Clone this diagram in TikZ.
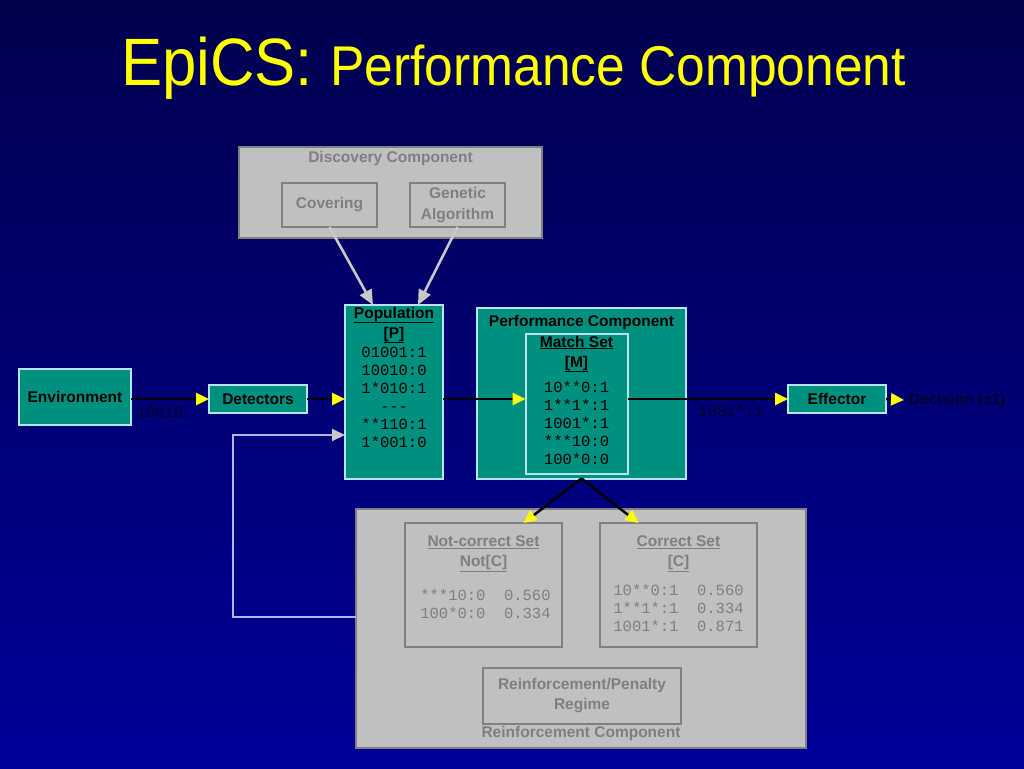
\documentclass[tikz,border=0pt]{standalone}
\usepackage{fontspec}
\setmainfont{Liberation Sans}
\newfontfamily\monof{Liberation Mono}
\usetikzlibrary{arrows.meta,calc}
\definecolor{teal1}{HTML}{00907F}
\definecolor{tealedge}{HTML}{B8E4EE}
\definecolor{gfill}{HTML}{C0C0C0}
\definecolor{gedge}{HTML}{808080}
\definecolor{gtext}{HTML}{7F7F7F}
\definecolor{bgtop}{HTML}{00004E}
\definecolor{bgbot}{HTML}{00009A}
\definecolor{darklab}{HTML}{000028}
\definecolor{fbline}{HTML}{B4B4E6}
\definecolor{garrow}{HTML}{C8C8C8}
\definecolor{yel}{HTML}{FFFF00}
\begin{document}
\begin{tikzpicture}[x=1pt,y=-1pt,
  every node/.style={inner sep=0pt, outer sep=0pt},
  bsans/.style={font=\bfseries\fontsize{15.5pt}{20pt}\selectfont, align=center},
  mono/.style={font=\monof\fontsize{15.5pt}{18pt}\selectfont, align=center},
  tbox/.style 2 args={draw=tealedge, line width=2pt, fill=teal1, minimum width=#1pt, minimum height=#2pt, bsans, text=black},
  gbox/.style 2 args={draw=gedge, line width=2.5pt, fill=gfill, minimum width=#1pt, minimum height=#2pt, bsans, text=gtext},
  gtxt/.style={bsans, text=gtext},
  btxt/.style={bsans, text=black},
  blk/.style={draw=black, line width=2.5pt, -{Triangle[length=13pt,width=12pt,color=yel]}},
  garr/.style={draw=garrow, line width=2.6pt, -{Triangle[length=15pt,width=13pt,color=garrow]}},
  fb/.style={draw=fbline, line width=2pt, -{Triangle[length=13pt,width=12pt,color=garrow]}},
  dlab/.style={mono, text=darklab}
]
\useasboundingbox (0,0) rectangle (1024,768);
\shade[top color=bgtop, bottom color=bgbot] (0,0) rectangle (1024,768);

% title
\node[anchor=base, text=yel] (title) at (513.5,85)
  {\scalebox{0.92}[1]{\fontsize{67pt}{70pt}\selectfont EpiCS: \fontsize{56pt}{60pt}\selectfont Performance Component}};

% discovery component
\node[gbox={303}{91}] (disc) at (390.5,192.5) {};
\node[gtxt] (disctitle) at (390.5,158) {Discovery Component};
\node[gbox={95}{44}] (cov) at (329.5,205) {Covering};
\node[gbox={95}{44}] (ga) at (457.5,205) {Genetic\\[1pt]Algorithm};

% environment, detectors, effector
\node[tbox={112}{56}] (env) at (75,397) {Environment};
\node[tbox={98}{28}] (det) at (258,399) {Detectors};
\node[tbox={98}{28}] (eff) at (837,399) {Effector};
\node[bsans, text=darklab, anchor=west, inner xsep=5pt] (dec) at (904,400) {Decision (±1)};

% population
\node[tbox={98}{174}] (pop) at (394,392) {};
\node[btxt] (poptitle) at (394,325) {\underline{Population}\\\underline{[P]}};
\node[mono] (popbody) at (394,397) {01001:1\\10010:0\\1*010:1\\-{}-{}-\\**110:1\\1*001:0};

% performance component
\node[tbox={209}{171}] (perf) at (581.5,393) {};
\node[btxt] (perftitle) at (581.5,322) {Performance Component};
\node[tbox={102}{140}] (match) at (576.5,404) {};
\node[btxt] (matchtitle) at (576.5,354) {\underline{Match Set}\\\underline{[M]}};
\node[mono] (matchbody) at (576.5,422.5) {10**0:1\\1**1*:1\\1001*:1\\***10:0\\100*0:0};

% reinforcement component
\node[gbox={450}{239}] (reinf) at (581,628.5) {};
\node[gbox={157}{124}] (notc) at (483.5,585) {};
\node[gtxt] (notctitle) at (483.5,554) {\underline{Not-correct Set}\\\underline{Not[C]}};
\node[mono, text=gtext] (notcbody) at (485.5,604) {***10:0~~0.560\\100*0:0~~0.334};
\node[gbox={157}{124}] (corr) at (678.5,585) {};
\node[gtxt] (corrtitle) at (678.5,554) {\underline{Correct Set}\\\underline{[C]}};
\node[mono, text=gtext] (corrbody) at (678.5,607.5) {10**0:1~~0.560\\1**1*:1~~0.334\\1001*:1~~0.871};
\node[gbox={198}{56}] (regime) at (582,696) {Reinforcement/Penalty\\Regime};
\node[gtxt] (reinftitle) at (581,733) {Reinforcement Component};

% labels
\node[dlab] (lab1) at (160,412) {10010};
\node[dlab] (lab2) at (731,411) {1001*:1};

% connectors
\draw[blk] (env.east |- det.west) -- (det.west);
\draw[blk] (det.east) -- (det.east -| pop.west);
\draw[blk] (det.east -| pop.east) -- (det.east -| match.west);
\draw[blk] (eff.west -| match.east) -- (eff.west);
\draw[blk] (eff.east) -- (dec.west);
\draw[blk] (perf.south) -- ($(notc.north)+(40,0)$);
\draw[blk] (perf.south) -- ($(corr.north)+(-40,0)$);
\draw[garr] (cov.south) -- ($(pop.north)+(-21,0)$);
\draw[garr] (ga.south) -- ($(pop.north)+(24,0)$);
\coordinate (fbc) at (233,435);
\draw[fb] ($(reinf.west)+(0,-12)$) -| (fbc) -- (fbc -| pop.west);
\end{tikzpicture}
\end{document}
